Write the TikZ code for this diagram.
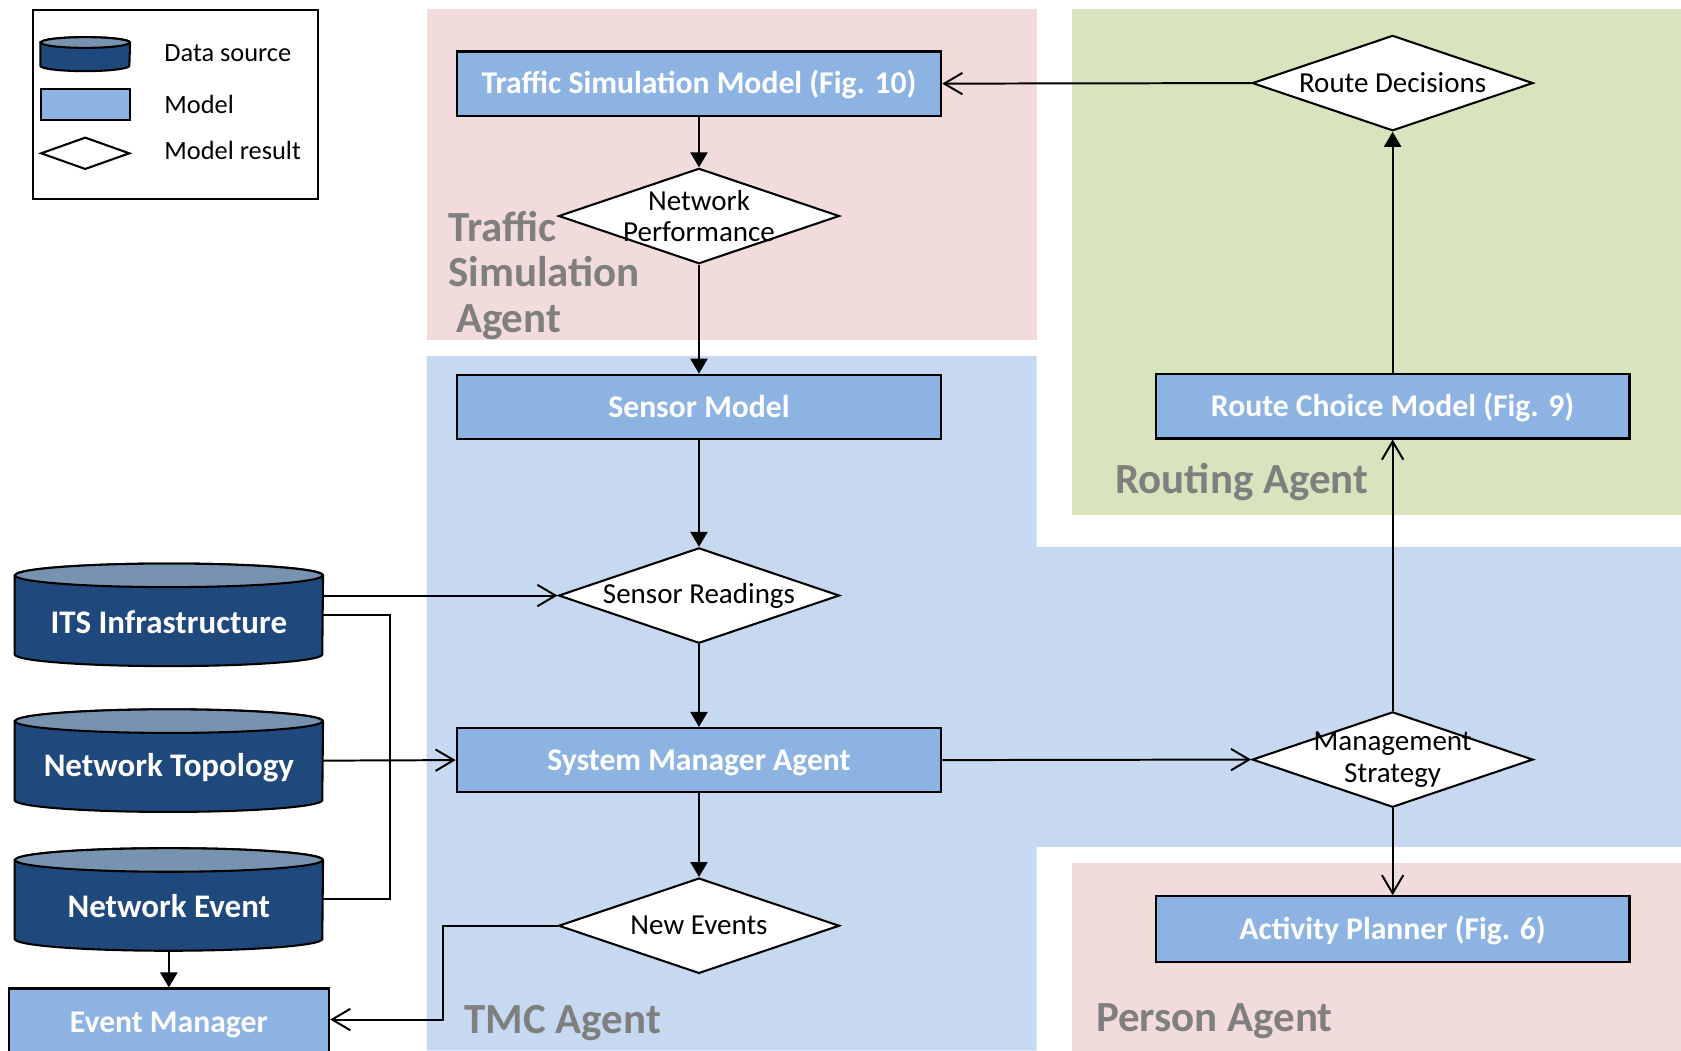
\documentclass[tikz,border=0pt]{standalone}
\usepackage{fontspec}
\setmainfont{Carlito}
\usetikzlibrary{shapes.geometric,arrows.meta,calc}
\definecolor{simpink}{HTML}{F2DCDB}
\definecolor{routegreen}{HTML}{D7E4BD}
\definecolor{tmcblue}{HTML}{C6D9F1}
\definecolor{modelblue}{HTML}{8DB3E2}
\definecolor{cyldark}{HTML}{1F497D}
\definecolor{cyltop}{HTML}{7893B0}
\definecolor{agentgrey}{HTML}{7F7F7F}
\pgfdeclarelayer{regions}
\pgfdeclarelayer{bodies}
\pgfsetlayers{regions,bodies,main}
% font size and line skip, in pt
\newcommand\fs[2]{\fontsize{#1}{#2}\selectfont}
% cylinder body drawn behind a named node: node, y radius, x radius
\newcommand\cylbody[3]{%
  \begin{pgfonlayer}{bodies}
  \path[fill=cyldark, draw=black, line width=1.1pt]
    ($(#1.north west)+(0,-#2)$) -- ($(#1.south west)+(0,#2)$)
    arc[start angle=180, end angle=360, x radius=#3, y radius=#2]
    -- ($(#1.north east)+(0,-#2)$)
    arc[start angle=0, end angle=180, x radius=#3, y radius=#2] -- cycle;
  \path[fill=cyltop, draw=black, line width=1.1pt]
    ($(#1.north)+(0,-#2)$) ellipse[x radius=#3, y radius=#2];
  \end{pgfonlayer}}
\begin{document}
\begin{tikzpicture}[x=0.02cm,y=-0.02cm,
  model/.style={rectangle, draw=black, line width=1.1pt, fill=modelblue,
    text=white, font=\bfseries\fs{16.8}{19}, minimum width=9.04cm,
    minimum height=1.2cm, inner sep=0pt, text height=0.42cm,
    text depth=0.04cm},
  result/.style={diamond, draw=black, line width=1.1pt, fill=white,
    minimum width=5.24cm, minimum height=1.78cm, inner sep=0pt},
  restext/.style={font=\fs{15.4}{16.6}, align=center, inner sep=0pt},
  datasrc/.style={rectangle, minimum width=5.74cm, minimum height=1.9cm,
    inner sep=0pt},
  cyltext/.style={text=white, font=\bfseries\fs{17.5}{20}, inner sep=0pt},
  legendtext/.style={font=\fs{14}{16}, anchor=west, inner sep=0pt},
  agentlabel/.style={text=agentgrey, font=\bfseries\fs{22.8}{24}, anchor=west,
    inner sep=0pt},
  filledarrow/.style={line width=1.05pt,
    -{Triangle[length=0.28cm,width=0.32cm]}},
  openarrow/.style={line width=1.05pt,
    -{Straight Barb[length=0.34cm,width=0.4cm]}},
  plainline/.style={line width=1.05pt},
]
\useasboundingbox (0,0) rectangle (1568,980);

% page ground, agent regions and legend frame
\begin{pgfonlayer}{regions}
  \fill[white] (0,0) rectangle (1568,980);
  \fill[simpink] (398,8) rectangle (967,317);
  \fill[routegreen] (1000,8) rectangle (1568,480);
  \fill[tmcblue] (398,332) -- (967,332) -- (967,510) -- (1568,510)
    -- (1568,790) -- (967,790) -- (967,980) -- (398,980) -- cycle;
  \fill[simpink] (1000,805) rectangle (1568,980);
  \node[draw=black, fill=white, line width=1.1pt, minimum width=5.32cm,
    minimum height=3.54cm, inner sep=0pt] (legend) at (164,97.5) {};
\end{pgfonlayer}

% legend
\node[rectangle, minimum width=1.66cm, minimum height=0.62cm, inner sep=0pt]
  (lgcyl) at (79.5,50.5) {};
\cylbody{lgcyl}{0.1cm}{0.83cm}
\node[model, minimum width=1.66cm, minimum height=0.58cm] (lgmodel)
  at (79.5,97.5) {};
\node[result, minimum width=1.66cm, minimum height=0.6cm] (lgresult)
  at (79.5,143) {};
\node[legendtext] (lgt1) at (153,50) {Data source};
\node[legendtext] (lgt2) at (153,97) {Model};
\node[legendtext] (lgt3) at (153,140) {Model result};

% agent labels
\node[agentlabel, align=left] (tsalabel)
  at (418,257) {Traffic\\Simulation\\\hspace*{0.14cm}Agent};
\node[agentlabel] (ralabel) at (1040,450) {Routing Agent};
\node[agentlabel] (tmclabel) at (433,954) {TMC Agent};
\node[agentlabel] (palabel) at (1022,953) {Person Agent};

% models
\node[model] (tsm) at (652,78) {Traffic Simulation Model (Fig. 10)};
\node[model] (sm) at (652,379.5) {Sensor Model};
\node[model] (sma) at (652,709) {System Manager Agent};
\node[model, minimum width=8.84cm] (rcm) at (1299,379) {Route Choice Model (Fig. 9)};
\node[model, minimum width=8.84cm, minimum height=1.22cm] (ap) at (1299,866.5)
  {Activity Planner (Fig. 6)};
\node[model, minimum width=5.98cm, minimum height=1.28cm] (em) at (157.5,954)
  {Event Manager};

% model results
\node[result, label={[restext]center:Network\\Performance}] (np)
  at (652,201.5) {};
\node[result, label={[restext]center:Sensor Readings}] (sr) at (652,555.5) {};
\node[result, label={[restext]center:New Events}] (ne) at (652,863.5) {};
\node[result, label={[restext]center:Route Decisions}] (rd) at (1299,77.5) {};
\node[result, label={[restext]center:Management\\Strategy}] (ms)
  at (1299,708.5) {};

% data sources
\node[datasrc, label={[cyltext, yshift=-0.13cm]center:ITS Infrastructure}]
  (its) at (157.5,573.5) {};
\cylbody{its}{0.22cm}{2.87cm}
\node[datasrc, label={[cyltext, yshift=-0.13cm]center:Network Topology}]
  (nt) at (157.5,709.5) {};
\cylbody{nt}{0.22cm}{2.87cm}
\node[datasrc, label={[cyltext, yshift=-0.13cm]center:Network Event}]
  (nevt) at (157.5,839) {};
\cylbody{nevt}{0.22cm}{2.87cm}

% connectors
\draw[openarrow] (rd.west) -- (tsm.east);
\draw[filledarrow] (tsm.south) -- (np.north);
\draw[filledarrow] (np.south) -- (sm.north);
\draw[filledarrow] (sm.south) -- (sr.north);
\draw[openarrow] (its.east |- sr.west) -- (sr.west);
\draw[plainline] (its.east) -- ++(62,0) |- (nevt.east);
\draw[openarrow] (nt.east) -- (sma.west);
\draw[filledarrow] (sr.south) -- (sma.north);
\draw[filledarrow] (sma.south) -- (ne.north);
\draw[openarrow] (sma.east) -- (ms.west);
\draw[openarrow] (ms.north) -- (rcm.south);
\draw[filledarrow] (rcm.north) -- (rd.south);
\draw[openarrow] (ms.south) -- (ap.north);
\draw[openarrow] (ne.west) -- ++(-107,0) |- ([yshift=0.06cm]em.east);
\draw[filledarrow] (nevt.south) -- (em.north);
\end{tikzpicture}
\end{document}
